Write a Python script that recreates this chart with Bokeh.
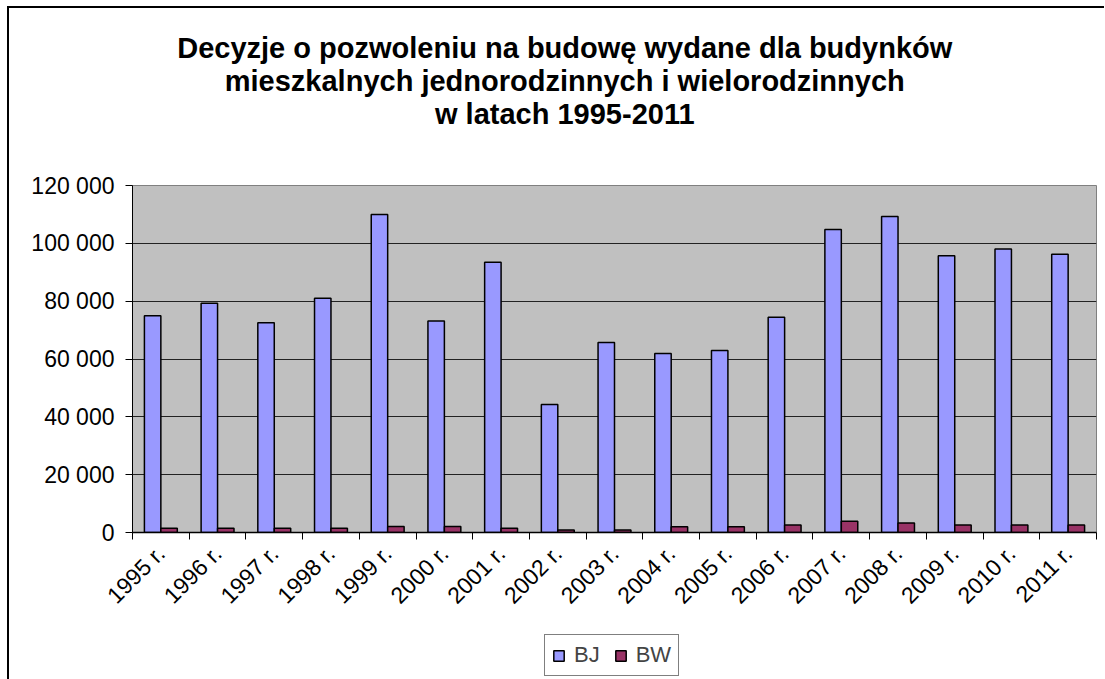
import numpy as np
from bokeh.plotting import figure
from bokeh.layouts import column
from bokeh.models import (Range1d, FixedTicker, CustomJSTickFormatter,
                          Legend, LegendItem, ColumnDataSource)
from bokeh.core.properties import value
from bokeh.transform import dodge
from bokeh.embed import file_html
from bokeh.resources import INLINE
from math import pi

# ---- data ----
years = ["1995 r.", "1996 r.", "1997 r.", "1998 r.", "1999 r.", "2000 r.", "2001 r.",
         "2002 r.", "2003 r.", "2004 r.", "2005 r.", "2006 r.", "2007 r.", "2008 r.",
         "2009 r.", "2010 r.", "2011 r."]
bj = [75000, 79300, 72500, 81000, 110000, 73100, 93500, 44300, 65700, 61900,
      62900, 74400, 104800, 109300, 95700, 98000, 96200]
bw = [1500, 1500, 1500, 1500, 2100, 2100, 1500, 900, 900, 2000,
      2000, 2600, 3900, 3300, 2600, 2600, 2600]
y_ticks = [0, 20000, 40000, 60000, 80000, 100000, 120000]
title_lines = ["Decyzje o pozwoleniu na budowę wydane dla budynków",
               "mieszkalnych jednorodzinnych i wielorodzinnych",
               "w latach 1995-2011"]
series_names = ["BJ", "BW"]
colors = ["#9999FF", "#993366"]

FONT = "Liberation Sans"
CANVAS_W = 1095
TITLE_H = 150
BOTTOM = 160
LEG_H = 50

# ---- title block ----
tf = figure(width=CANVAS_W, height=TITLE_H, output_backend="svg", toolbar_location=None,
            x_range=Range1d(0, CANVAS_W), y_range=Range1d(TITLE_H, 0),
            x_axis_location=None, y_axis_location=None, min_border=0)
tf.grid.visible = False
tf.outline_line_color = None
tf.background_fill_color = "white"
tf.border_fill_color = "white"
tf.text(x=[491] * 3, y=[39, 72, 105], text=title_lines,
        text_font=value(FONT), text_font_style="bold", text_font_size="29px",
        text_align="center", text_baseline="middle", text_color="black")

# ---- chart ----
pos = [i + 0.5 for i in range(len(years))]
src = ColumnDataSource(dict(x=pos, bj=bj, bw=bw, year=years))

p = figure(frame_width=964, frame_height=347, output_backend="svg",
           toolbar_location=None, x_range=Range1d(0, len(years)),
           y_range=Range1d(0, 120000),
           min_border_left=123, min_border_top=185 - 8 - TITLE_H, min_border_right=8,
           min_border_bottom=BOTTOM)
p.background_fill_color = "#C0C0C0"
p.border_fill_color = "white"
p.outline_line_color = "#808080"
p.outline_line_width = 1

p.vbar(x=dodge("x", -0.145, range=p.x_range), top="bj", width=0.29, source=src,
       fill_color=colors[0], line_color="black", line_width=1.5)
p.vbar(x=dodge("x", 0.145, range=p.x_range), top="bw", width=0.29, source=src,
       fill_color=colors[1], line_color="black", line_width=1.5)

p.xgrid.grid_line_color = None
p.ygrid.ticker = FixedTicker(ticks=y_ticks)
p.ygrid.grid_line_color = "#222222"
p.ygrid.grid_line_width = 1

ya = p.yaxis[0]
ya.ticker = FixedTicker(ticks=y_ticks, minor_ticks=[])
ya.formatter = CustomJSTickFormatter(code="""
return Math.round(tick).toString().replace(/\\B(?=(\\d{3})+(?!\\d))/g, " ");
""")
ya.major_tick_out = 7
ya.major_tick_in = 0
ya.minor_tick_out = 0
ya.minor_tick_in = 0
ya.axis_line_color = "black"
ya.axis_line_width = 1
ya.major_tick_line_color = "black"
ya.major_label_text_font = FONT
ya.major_label_text_font_size = "23px"
ya.major_label_text_color = "black"
ya.major_label_standoff = 11

xa = p.xaxis[0]
xa.ticker = FixedTicker(ticks=pos, minor_ticks=list(range(len(years) + 1)))
xa.formatter = CustomJSTickFormatter(args=dict(labels=years), code="""
return labels[Math.floor(tick)];
""")
xa.major_tick_out = 0
xa.major_tick_in = 0
xa.minor_tick_out = 7
xa.minor_tick_in = 0
xa.minor_tick_line_color = "black"
xa.axis_line_color = "black"
xa.axis_line_width = 1.5
xa.major_label_orientation = pi / 4
xa.major_label_text_font = FONT
xa.major_label_text_font_size = "23px"
xa.major_label_text_color = "black"
xa.major_label_standoff = 10

# ---- legend block (overlaps the blank bottom of the chart) ----
lf = figure(width=CANVAS_W, height=LEG_H, output_backend="svg", toolbar_location=None,
            x_range=Range1d(0, 1), y_range=Range1d(0, 1),
            x_axis_location=None, y_axis_location=None, min_border=0)
lf.grid.visible = False
lf.outline_line_color = None
lf.background_fill_alpha = 0
lf.border_fill_alpha = 0
# legend swatches: one bar each, lying below the visible range
lr = [lf.vbar(x=[0.5], top=[-1], bottom=[-2], width=0.1, fill_color=c,
              line_color="black", line_width=1.5)
      for c in colors]
legend = Legend(items=[LegendItem(label=n, renderers=[r]) for n, r in zip(series_names, lr)],
                orientation="horizontal", location=(412, 4))
legend.border_line_color = "black"
legend.border_line_width = 1
legend.background_fill_color = "white"
legend.background_fill_alpha = 1
legend.label_text_font = FONT
legend.label_text_font_size = "22px"
legend.glyph_width = 13
legend.glyph_height = 13
legend.label_standoff = 9
legend.spacing = 14
legend.padding = 7
legend.margin = 0
lf.add_layout(legend, "center")
main_bottom = 185 + 347 + BOTTOM
lf.styles = {"margin-top": f"{630 - main_bottom}px"}

layout = column(tf, p, lf, spacing=0)
layout.styles = {"border-left": "2px solid black", "border-top": "2px solid black",
                 "margin-left": "7px", "margin-top": "6px"}

open("out.html", "w").write(file_html(layout, INLINE))
